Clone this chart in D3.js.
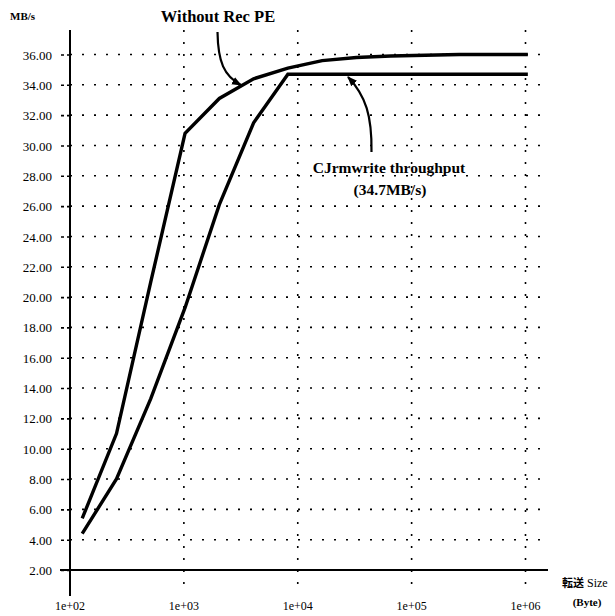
<!DOCTYPE html>
<html>
<head>
<meta charset="utf-8">
<script src="https://cdn.jsdelivr.net/npm/d3@7"></script>
<style>
  html, body { margin: 0; padding: 0; background: #fff; }
  svg { display: block; }
  text { font-family: "Liberation Serif", "DejaVu Serif", serif; fill: #000; }
  .grid line { stroke: #000; stroke-width: 1.6; stroke-dasharray: 2,10; }
</style>
</head>
<body>
<svg width="615" height="616"></svg>
<script>
// transfer size in bytes
var sizes = [128, 256, 512, 1024, 2048, 4096, 8192, 16384, 32768, 65536, 131072, 262144, 524288, 1048576]
// MB/s
var withoutRecPE = [5.4, 11.0, 21.0, 30.8, 33.1, 34.4, 35.1, 35.6, 35.8, 35.9, 35.95, 36.0, 36.0, 36.0]
var cjrmwrite = [4.4, 8.0, 13.3, 19.3, 26.1, 31.5, 34.7, 34.7, 34.7, 34.7, 34.7, 34.7, 34.7, 34.7]

var yTicks = [2, 4, 6, 8, 10, 12, 14, 16, 18, 20, 22, 24, 26, 28, 30, 32, 34, 36]
var xTicks = [1e2, 1e3, 1e4, 1e5, 1e6]
var xTickLabels = ['1e+02', '1e+03', '1e+04', '1e+05', '1e+06']

const svg = d3.select('svg')

const xScale = d3.scaleLog()
  .domain([1e2, 1e6])
  .range([70, 525.5])

const yScale = d3.scaleLinear()
  .domain([2, 36])
  .range([570, 54.5])

const xLeft = 60, xRight = 548
const yTop = 30, yBottom = 596

// horizontal dotted grid
svg.append('g')
  .attr('class', 'grid')
  .selectAll('line')
  .data(yTicks.filter(d => d > 2))
  .enter()
  .append('line')
  .attr('x1', xScale(1e2))
  .attr('x2', xRight)
  .attr('y1', d => yScale(d))
  .attr('y2', d => yScale(d))

// vertical dotted grid
svg.append('g')
  .attr('class', 'grid')
  .selectAll('line')
  .data(xTicks.slice(1))
  .enter()
  .append('line')
  .attr('x1', d => xScale(d))
  .attr('x2', d => xScale(d))
  .attr('y1', yTop)
  .attr('y2', 593)

// y axis
const yAxis = svg.append('g')
  .attr('transform', `translate(${xScale(1e2)}, 0)`)
  .call(d3.axisLeft(yScale)
    .tickValues(yTicks)
    .tickSize(9)
    .tickPadding(9)
    .tickFormat(d3.format('.2f')))
yAxis.select('.domain').remove()
yAxis.selectAll('.tick line')
  .attr('stroke', '#000')
  .attr('stroke-width', 1.6)
  .attr('stroke-dasharray', '3,3')
yAxis.selectAll('.tick text')
  .attr('font-size', 13)
  .attr('font-family', '"Liberation Serif", serif')
  .attr('fill', '#000')
  .attr('x', -18)
  .attr('dy', '0.35em')

svg.append('line')
  .attr('x1', xScale(1e2)).attr('x2', xScale(1e2))
  .attr('y1', yTop).attr('y2', yBottom)
  .attr('stroke', '#000').attr('stroke-width', 2)

// x axis (at 2.00)
svg.append('line')
  .attr('x1', xLeft).attr('x2', xRight)
  .attr('y1', yScale(2)).attr('y2', yScale(2))
  .attr('stroke', '#000').attr('stroke-width', 2.2)

svg.append('g')
  .selectAll('text')
  .data(xTicks)
  .enter()
  .append('text')
  .attr('x', d => xScale(d))
  .attr('y', 610)
  .attr('text-anchor', 'middle')
  .attr('font-size', 12)
  .text((d, i) => xTickLabels[i])

// series
const line = d3.line()
  .x((d, i) => xScale(sizes[i]))
  .y(d => yScale(d))

;[withoutRecPE, cjrmwrite].forEach(function (serie) {
  svg.append('path')
    .datum(serie)
    .attr('d', line)
    .attr('fill', 'none')
    .attr('stroke', '#000')
    .attr('stroke-width', 3.4)
    .attr('stroke-linejoin', 'miter')
})

// arrow heads
svg.append('defs').append('marker')
  .attr('id', 'head')
  .attr('viewBox', '0 0 10 10')
  .attr('refX', 9).attr('refY', 5)
  .attr('markerWidth', 4.5).attr('markerHeight', 4.5)
  .attr('markerUnits', 'strokeWidth')
  .attr('orient', 'auto')
  .append('path')
  .attr('d', 'M0,1 L10,5 L0,9 Z')
  .attr('fill', '#000')

svg.append('path')
  .attr('d', 'M217.5,32 C218,62 224,76 241,85')
  .attr('fill', 'none').attr('stroke', '#000').attr('stroke-width', 2.2)
  .attr('marker-end', 'url(#head)')

svg.append('path')
  .attr('d', 'M371.5,152 C372,116 366,96 348,77')
  .attr('fill', 'none').attr('stroke', '#000').attr('stroke-width', 2.2)
  .attr('marker-end', 'url(#head)')

// labels
svg.append('text')
  .attr('x', 10).attr('y', 20)
  .attr('font-size', 11).attr('font-weight', 'bold')
  .text('MB/s')

svg.append('text')
  .attr('x', 218).attr('y', 22)
  .attr('text-anchor', 'middle')
  .attr('font-size', 16.5).attr('font-weight', 'bold')
  .text('Without Rec PE')

svg.append('text')
  .attr('x', 389).attr('y', 173)
  .attr('text-anchor', 'middle')
  .attr('font-size', 15.5).attr('font-weight', 'bold')
  .text('CJrmwrite throughput')

svg.append('text')
  .attr('x', 390).attr('y', 195)
  .attr('text-anchor', 'middle')
  .attr('font-size', 15.5).attr('font-weight', 'bold')
  .text('(34.7MB/s)')

const xLabel = svg.append('text')
  .attr('x', 562).attr('y', 587)
  .attr('font-size', 11)
xLabel.append('tspan')
  .attr('font-family', '"Noto Sans CJK JP", sans-serif')
  .attr('font-weight', 'bold')
  .text('転送')
xLabel.append('tspan').attr('font-size', 12).text(' Size')

svg.append('text')
  .attr('x', 587).attr('y', 606)
  .attr('text-anchor', 'middle')
  .attr('font-size', 11).attr('font-weight', 'bold')
  .text('(Byte)')
</script>
</body>
</html>
